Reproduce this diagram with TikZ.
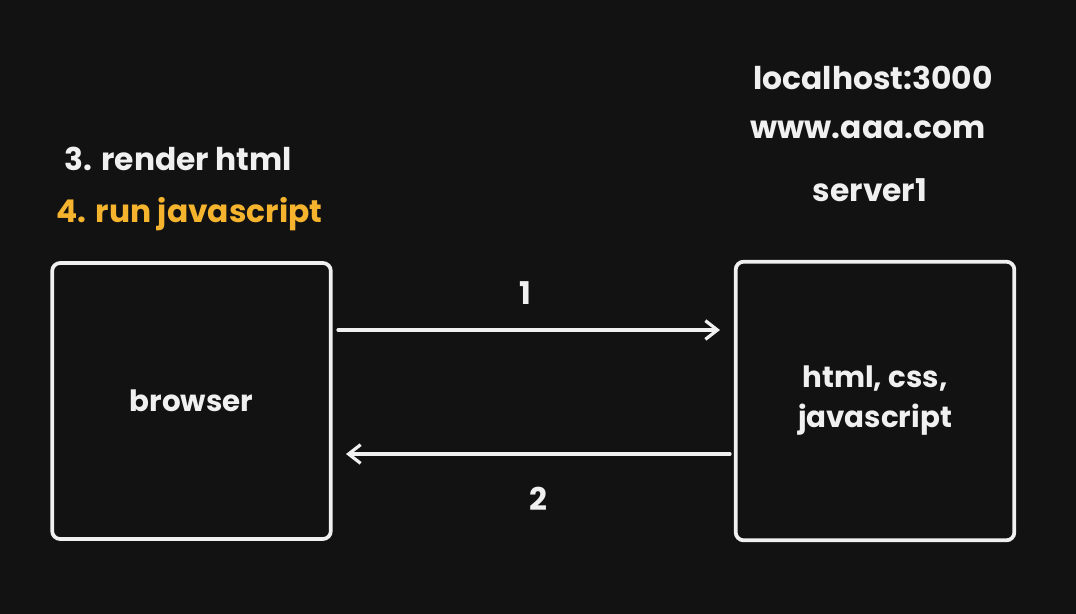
\documentclass[tikz,border=0pt]{standalone}
\usepackage{fontspec}
\setmainfont{Poppins}
\usetikzlibrary{arrows.meta}
\definecolor{bgdark}{RGB}{18,18,18}
\definecolor{chalk}{RGB}{240,240,240}
\definecolor{amber}{RGB}{246,180,46}
\tikzset{
  box/.style={draw=chalk,line width=2.8pt,rounded corners=6pt,minimum width=209pt,minimum height=207pt,text=chalk,align=center},
  lbl/.style={text=chalk,font=\fontsize{23.5}{30}\selectfont\bfseries},
  flow/.style={draw=chalk,line width=2.4pt,line cap=round,-{Straight Barb[length=9pt,width=14pt,line width=2.4pt]}}
}
\begin{document}
\begin{tikzpicture}[x=0.75pt,y=0.75pt,yscale=-1,xscale=1]
% background
\fill[bgdark] (0,0) rectangle (1076,614);
\useasboundingbox (0,0) rectangle (1076,614);

% Boxes
\node (browser) at (191.5,401) [box,font=\fontsize{22}{30}\selectfont\bfseries] {browser};
\node (server) at (875,401) [box,minimum height=209pt,font=\fontsize{22}{30}\selectfont\bfseries] {html, css,\\javascript};

% Text Node
\node (step3) at (60,159) [lbl,anchor=west] {3. render html};
% Text Node
\node (step4) at (52,214) [lbl,anchor=west,text=amber] {4. run javascript};
% Text Node
\node (host) at (873,78) [lbl] {localhost:3000};
% Text Node
\node (domain) at (868,130) [lbl] {www.aaa.com};
% Text Node
\node (name) at (870,190) [lbl] {server1};

% Arrows
\coordinate (reqA) at (338,330);
\coordinate (reqB) at (720,330);
\coordinate (resA) at (730,454);
\coordinate (resB) at (346,454);
\draw[flow] (reqA) -- (reqB);
\draw[flow] (resA) -- (resB);

% Text Node
\node (one) at (525,293) [lbl] {1};
% Text Node
\node (two) at (538,499) [lbl] {2};

\end{tikzpicture}
\end{document}
